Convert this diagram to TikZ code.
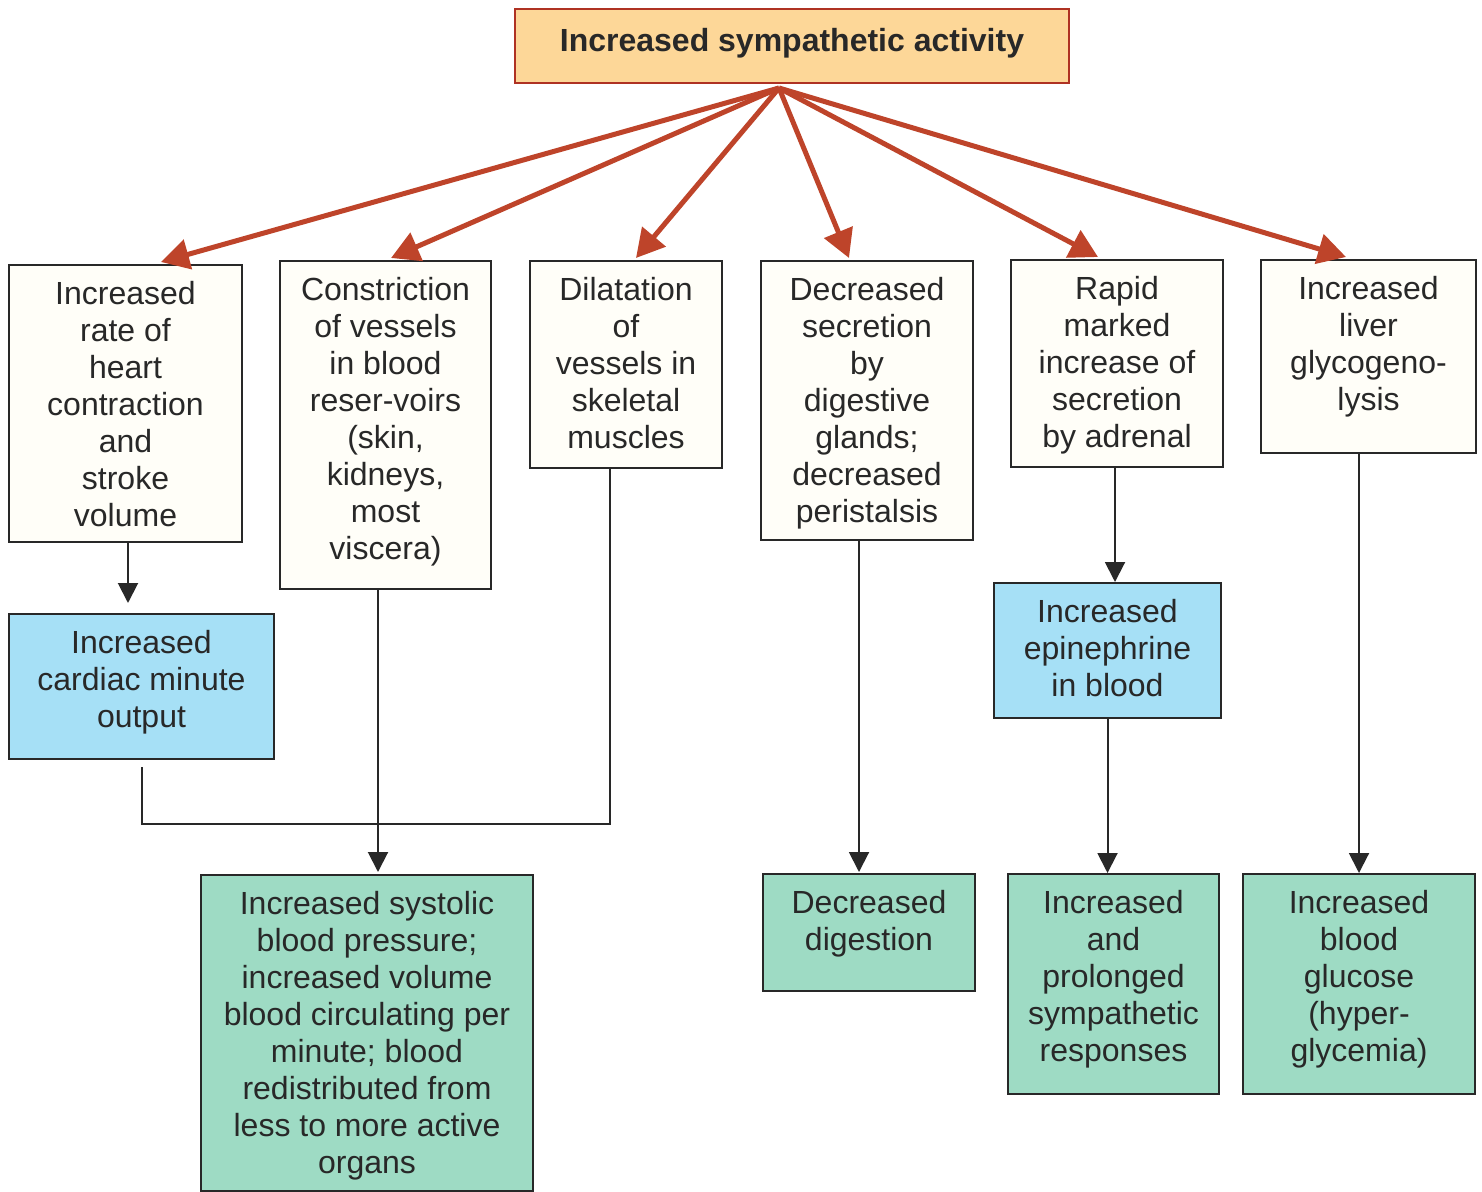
\documentclass[tikz,border=0pt]{standalone}
\usepackage{fontspec}
\setmainfont{Liberation Sans}
\usetikzlibrary{arrows.meta}
\definecolor{txt}{RGB}{40,40,40}
\definecolor{redc}{RGB}{190,68,42}
\definecolor{titlefill}{RGB}{253,215,152}
\definecolor{titledraw}{RGB}{175,50,35}
\definecolor{bluef}{RGB}{166,224,246}
\definecolor{greenf}{RGB}{158,219,196}
\definecolor{paper}{RGB}{255,254,248}
\begin{document}
\begin{tikzpicture}[x=0.5pt,y=-0.5pt,
  bx/.style={draw=txt, line width=1pt, inner sep=0pt, anchor=north west},
  lbl/.style={anchor=north, inner sep=0pt, align=center, text=txt, font=\fontsize{16}{18.5}\selectfont},
  redarr/.style={draw=redc, line width=2.5pt, -{Triangle[length=14pt,width=15pt]}},
  blk/.style={draw=txt, line width=1pt, -{Triangle[length=10pt,width=10pt]}},
  plain/.style={draw=txt, line width=1pt}]

\useasboundingbox[fill=white] (0,0) rectangle (1482,1192);

% title
\node[bx, draw=titledraw, fill=titlefill, minimum width=277pt, minimum height=37pt] (T) at (514,8) {};
\node[text=txt, font=\fontsize{16}{18.5}\selectfont\bfseries, inner sep=0pt] (Tt) at ([yshift=1.5pt]T.center) {Increased sympathetic activity};

% first row
\node[bx, fill=paper, minimum width=116.5pt, minimum height=138.5pt] (A) at (8,264) {};
\node[lbl] (At) at ([yshift=-7pt]A.north) {\strut Increased\\rate of\\heart\\contraction\\and\\stroke\\volume};

\node[bx, fill=paper, minimum width=105.5pt, minimum height=164pt] (B) at (279,260) {};
\node[lbl] (Bt) at ([yshift=-7pt]B.north) {\strut Constriction\\of vessels\\in blood\\reser-voirs\\(skin,\\kidneys,\\most\\viscera)};

\node[bx, fill=paper, minimum width=96pt, minimum height=103.5pt] (C) at (529,260) {};
\node[lbl] (Ct) at ([yshift=-7pt]C.north) {\strut Dilatation\\of\\vessels in\\skeletal\\muscles};

\node[bx, fill=paper, minimum width=106pt, minimum height=139.5pt] (D) at (760,260) {};
\node[lbl] (Dt) at ([yshift=-7pt]D.north) {\strut Decreased\\secretion\\by\\digestive\\glands;\\decreased\\peristalsis};

\node[bx, fill=paper, minimum width=106pt, minimum height=103.5pt] (E) at (1010,259) {};
\node[lbl] (Et) at ([yshift=-7pt]E.north) {\strut Rapid\\marked\\increase of\\secretion\\by adrenal};

\node[bx, fill=paper, minimum width=107.5pt, minimum height=96.5pt] (F) at (1260,259) {};
\node[lbl] (Ft) at ([yshift=-7pt]F.north) {\strut Increased\\liver\\glycogeno-\\lysis};

% blue
\node[bx, fill=bluef, minimum width=132.5pt, minimum height=72.5pt] (G) at (8,613) {};
\node[lbl] (Gt) at ([yshift=-7pt]G.north) {\strut Increased\\cardiac minute\\output};

\node[bx, fill=bluef, minimum width=113.5pt, minimum height=67.5pt] (H) at (993,582) {};
\node[lbl] (Ht) at ([yshift=-7pt]H.north) {\strut Increased\\epinephrine\\in blood};

% green
\node[bx, fill=greenf, minimum width=166pt, minimum height=158pt] (I) at (200,874) {};
\node[lbl] (It) at ([yshift=-7pt]I.north) {\strut Increased systolic\\blood pressure;\\increased volume\\blood circulating per\\minute; blood\\redistributed from\\less to more active\\organs};

\node[bx, fill=greenf, minimum width=106pt, minimum height=58.5pt] (J) at (762,873) {};
\node[lbl] (Jt) at ([yshift=-7pt]J.north) {\strut Decreased\\digestion};

\node[bx, fill=greenf, minimum width=105.5pt, minimum height=110pt] (K) at (1007,873) {};
\node[lbl] (Kt) at ([yshift=-7pt]K.north) {\strut Increased\\and\\prolonged\\sympathetic\\responses};

\node[bx, fill=greenf, minimum width=116pt, minimum height=110pt] (L) at (1242,873) {};
\node[lbl] (Lt) at ([yshift=-7pt]L.north) {\strut Increased\\blood\\glucose\\(hyper-\\glycemia)};

% red arrows
\coordinate (src) at ([xshift=-6.5pt,yshift=-2pt]T.south);
\draw[redarr] (src) -- ([xshift=17.75pt,yshift=1pt]A.north);
\draw[redarr] (src) -- ([xshift=2.75pt,yshift=1pt]B.north);
\draw[redarr] (src) -- ([xshift=5pt,yshift=1pt]C.north);
\draw[redarr] (src) -- ([xshift=-9pt,yshift=1pt]D.north);
\draw[redarr] (src) -- ([xshift=-9.5pt,yshift=1pt]E.north);
\draw[redarr] (src) -- ([xshift=-11.25pt,yshift=1pt]F.north);

% black arrows
\draw[blk] ([xshift=1.25pt]A.south) -- ([xshift=1.25pt,yshift=5pt]A.south |- G.north);
\draw[blk] ([xshift=-3.75pt]B.south) -- ([xshift=-3.75pt,yshift=1pt]B.south |- I.north);
\draw[plain] ([yshift=-3.5pt]G.south) -- ++(0,57) -| ([xshift=-8pt]C.south);
\draw[blk] ([xshift=-4pt]D.south) -- ([xshift=-4pt,yshift=0.5pt]D.south |- J.north);
\draw[blk] ([xshift=-1pt]E.south) -- ([xshift=-1pt]E.south |- H.north);
\draw[blk] (H.south) -- (H.south |- K.north);
\draw[blk] ([xshift=-4.75pt]F.south) -- ([xshift=-4.75pt]F.south |- L.north);
\end{tikzpicture}
\end{document}
